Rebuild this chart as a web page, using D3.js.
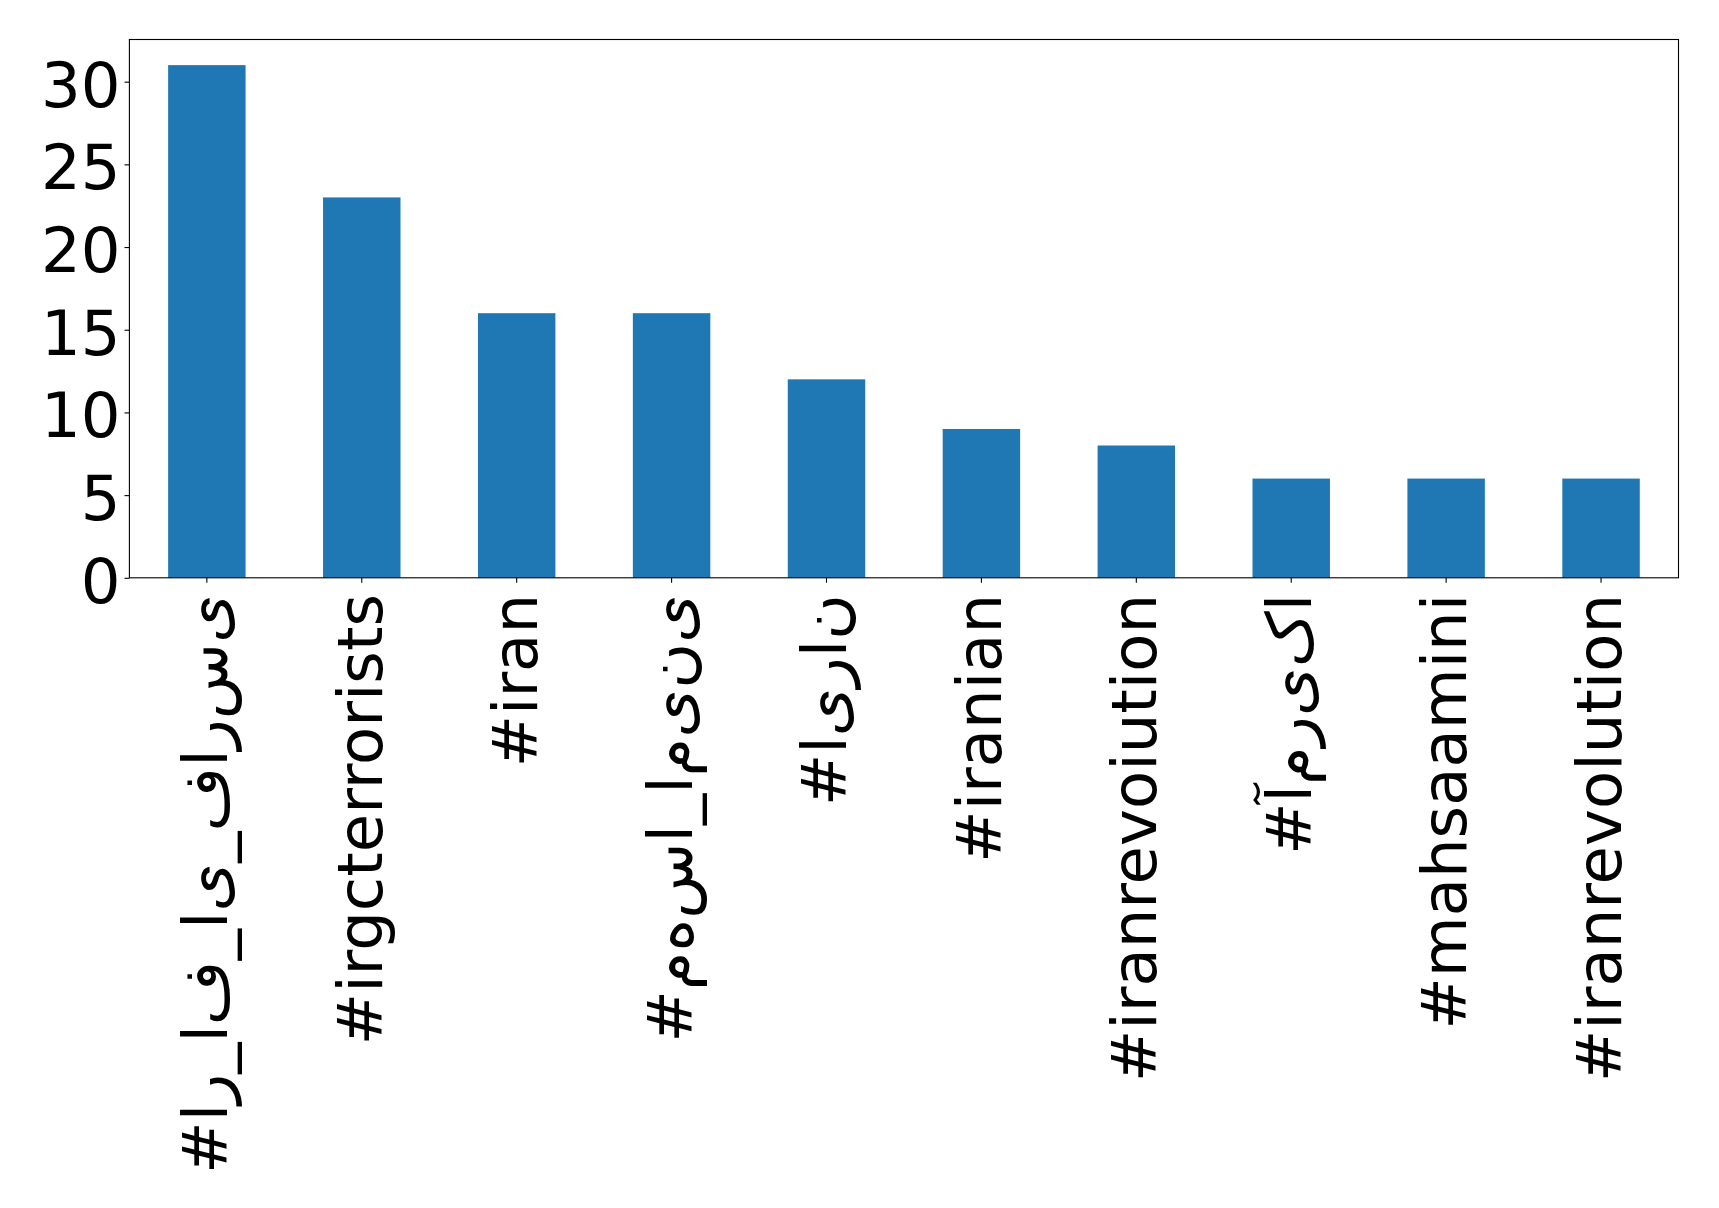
<!DOCTYPE html>
<html>
<head>
<meta charset="utf-8">
<script src="https://cdn.jsdelivr.net/npm/d3@7"></script>
<style>
  html, body { margin: 0; padding: 0; background: #fff; }
  svg { display: block; }
  text { font-family: "DejaVu Sans", sans-serif; fill: #000; }
</style>
</head>
<body>
<svg id="chart" width="1719" height="1208"></svg>
<script>
// ---- data ----
const categories = ["#ار_اف_ای_فارسی", "#irgcterrorists", "#iran", "#مهسا_امینی", "#ایران",
                    "#iranian", "#iranrevoiution", "#آمریکا", "#mahsaamini", "#iranrevolution"];
const counts = [31, 23, 16, 16, 12, 9, 8, 6, 6, 6];
const yTicks = [0, 5, 10, 15, 20, 25, 30];

// ---- layout ----
const W = 1719, H = 1208;
const plotLeft = 129.4, plotRight = 1678.5, plotTop = 39.5, plotBottom = 577.8;
const fontPx = 62.5;
const tickLen = 4.9;

const svg = d3.select("#chart");
svg.append("rect").attr("width", W).attr("height", H).attr("fill", "#fff");

const x = d3.scaleBand().domain(d3.range(categories.length))
  .range([plotLeft, plotRight]).paddingInner(0.5).paddingOuter(0.25);
const yMax = d3.max(counts) * 1.05;
const y = d3.scaleLinear().domain([0, yMax]).range([plotBottom, plotTop]);

// bars
svg.append("g").selectAll("rect").data(counts).join("rect")
  .attr("x", (d, i) => x(i))
  .attr("width", x.bandwidth())
  .attr("y", d => y(d))
  .attr("height", d => y(0) - y(d))
  .attr("fill", "#1f77b4");

// y axis
const yAxis = svg.append("g").attr("transform", `translate(${plotLeft},0)`)
  .call(d3.axisLeft(y).tickValues(yTicks).tickSize(tickLen).tickPadding(0).tickFormat(d3.format("d")));
yAxis.select(".domain").remove();
yAxis.selectAll(".tick line").attr("stroke", "#000").attr("stroke-width", 1.1);
yAxis.selectAll(".tick text")
  .attr("x", -(plotLeft - 120.5))
  .attr("dy", null).attr("y", 24.5)
  .attr("text-anchor", "end")
  .style("font-size", fontPx + "px")
  .style("font-family", "'DejaVu Sans', sans-serif");

// x axis
const xAxis = svg.append("g").attr("transform", `translate(0,${plotBottom})`)
  .call(d3.axisBottom(x).tickSize(tickLen).tickFormat(""));
xAxis.select(".domain").remove();
xAxis.selectAll(".tick line").attr("stroke", "#000").attr("stroke-width", 1.1);

// x labels, rotated, characters kept unjoined and in left-to-right order
const ZWNJ = "\u200C";
svg.append("g").selectAll("text").data(categories).join("text")
  .attr("transform", (d, i) => `translate(${x(i) + x.bandwidth() / 2 + 20},594) rotate(-90)`)
  .attr("text-anchor", "end")
  .attr("direction", "ltr")
  .attr("unicode-bidi", "bidi-override")
  .style("direction", "ltr")
  .style("unicode-bidi", "bidi-override")
  .style("font-size", fontPx + "px")
  .text(d => "\u202D" + Array.from(d).join(ZWNJ) + "\u202C");

// frame
svg.append("rect")
  .attr("x", plotLeft).attr("y", plotTop)
  .attr("width", plotRight - plotLeft).attr("height", plotBottom - plotTop)
  .attr("fill", "none").attr("stroke", "#000").attr("stroke-width", 1.1);
</script>
</body>
</html>
